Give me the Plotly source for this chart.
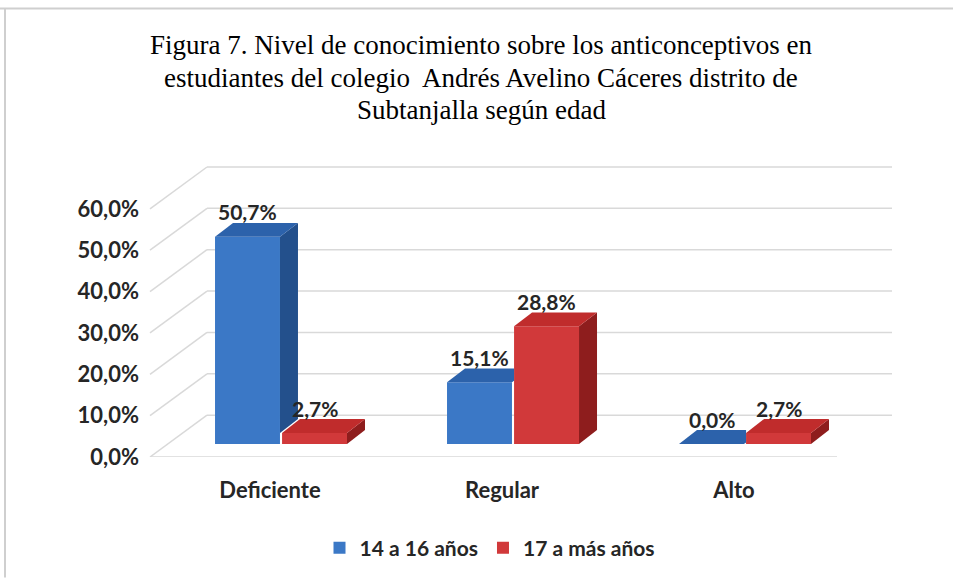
import plotly.graph_objects as go

# ---------------- data ----------------
categories = ["Deficiente", "Regular", "Alto"]
series_names = ["14 a 16 años", "17 a más años"]
values_14_16 = [50.7, 15.1, 0.0]
values_17_mas = [2.7, 28.8, 2.7]
y_tickvals = [0, 10, 20, 30, 40, 50, 60]
y_ticktext = ["0,0%", "10,0%", "20,0%", "30,0%", "40,0%", "50,0%", "60,0%"]
title_lines = [
    "Figura 7. Nivel de conocimiento sobre los anticonceptivos en",
    "estudiantes del colegio  Andrés Avelino Cáceres distrito de",
    "Subtanjalla según edad",
]

def fmt(v):
    return f"{v:.1f}".replace(".", ",") + "%"

# ---------------- style / geometry ----------------
W, H = 953, 579
L, R, T, B = 150, 892, 160, 458          # plot area in pixels
PW, PH = R - L, B - T
CAT_PX = 232.0                           # pixels per category
C0 = 270.0                               # pixel of first category
x_range = [(L - C0) / CAT_PX, (R - C0) / CAT_PX]

S_BAR = 4.1                              # px per % for bars
BAR_BASE = 445                           # pixel of bar base
y_range = [-(B - BAR_BASE) / S_BAR, (BAR_BASE - T) / S_BAR]
S_LBL = 4.15                             # px per % for axis labels / walls
y2_range = [0, PH / S_LBL]
BACK_OFF = 42 / S_LBL                    # back-wall offset in % units
BACK_X = (207 - L) / PW                  # back wall left in paper units
FLOOR_X = (837 - L) / PW

BAR_W = 0.28
OFFSETS = [-0.237, 0.052]
DX = 18 / CAT_PX
DY = 14 / S_BAR

FRONT = ["#3b78c6", "#d1393a"]
TOP = ["#2c62ab", "#c02c2c"]
SIDE = ["#23508c", "#8e1d1d"]
GRID = "#d9d9d9"
TXT = "#262626"
FONT = "Lato"
SERIF = "Liberation Serif, Times New Roman, serif"

series = [values_14_16, values_17_mas]
xs = list(range(len(categories)))

fig = go.Figure()
for s, vals in enumerate(series):
    fig.add_trace(go.Bar(
        x=xs, y=vals, name=series_names[s],
        width=BAR_W, offset=OFFSETS[s],
        marker=dict(color=FRONT[s], line=dict(width=0)),
        hoverinfo="skip",
    ))

shapes = []
# frame
shapes.append(dict(type="line", xref="paper", yref="paper",
                   x0=(0 - L) / PW, x1=(W - L) / PW, y0=(B - 8) / PH, y1=(B - 8) / PH,
                   line=dict(color="#cfcfcf", width=2), layer="below"))
shapes.append(dict(type="line", xref="paper", yref="paper",
                   x0=(5 - L) / PW, x1=(5 - L) / PW, y0=(B - 8) / PH, y1=(B - H) / PH,
                   line=dict(color="#cfcfcf", width=2), layer="below"))
# walls: back gridlines & side diagonals
for v in y_tickvals:
    shapes.append(dict(type="line", xref="paper", yref="y2",
                       x0=BACK_X, x1=1, y0=v + BACK_OFF, y1=v + BACK_OFF,
                       line=dict(color=GRID, width=1.5), layer="below"))
    shapes.append(dict(type="line", xref="paper", yref="y2",
                       x0=0, x1=BACK_X, y0=v, y1=v + BACK_OFF,
                       line=dict(color=GRID, width=1.5), layer="below"))
shapes.append(dict(type="line", xref="paper", yref="y2",
                   x0=0, x1=FLOOR_X, y0=0, y1=0,
                   line=dict(color=GRID, width=1.5), layer="below"))

def path(pts):
    return "M " + " L ".join(f"{x},{y}" for x, y in pts) + " Z"

annotations = []
gap = OFFSETS[1] - (OFFSETS[0] + BAR_W)
for i in xs:
    for s, vals in enumerate(series):
        v = vals[i]
        xl = i + OFFSETS[s]
        xr = xl + BAR_W
        other = series[1 - s][i]
        if s == 0 and other > v:
            top = [(xl, v), (xr, v), (xr + gap, v + DY * gap / DX),
                   (xr + gap, v + DY), (xl + DX, v + DY)]
        else:
            top = [(xl, v), (xr, v), (xr + DX, v + DY), (xl + DX, v + DY)]
        if s == 0:
            if v > other:
                side = [(xr, other), (xr, v), (xr + DX, v + DY), (xr + DX, other + DY)]
            else:
                side = None
        else:
            side = [(xr, 0), (xr, v), (xr + DX, v + DY), (xr + DX, DY)]
        if side:
            shapes.append(dict(type="path", xref="x", yref="y", path=path(side),
                               fillcolor=SIDE[s], line=dict(width=0), layer="above"))
        shapes.append(dict(type="path", xref="x", yref="y", path=path(top),
                           fillcolor=TOP[s], line=dict(width=0), layer="above"))
        annotations.append(dict(x=xl + BAR_W / 2, y=v,
                                xref="x", yref="y",
                                text=fmt(v), showarrow=False, yshift=25,
                                font=dict(family=FONT, size=21, color=TXT, weight="bold")))

title_y = [45, 78, 110]
for line, py in zip(title_lines, title_y):
    annotations.append(dict(
        x=(481 - L) / PW, y=(B - py) / PH, xref="paper", yref="paper",
        text=line, showarrow=False, xanchor="center", yanchor="middle",
        font=dict(family=SERIF, size=27, color="#000000")))

fig.update_layout(
    width=W, height=H,
    margin=dict(l=L, r=W - R, t=T, b=H - B, pad=0),
    paper_bgcolor="white", plot_bgcolor="white",
    barmode="group",
    shapes=shapes, annotations=annotations,
    showlegend=True,
    hovermode=False,
    legend=dict(orientation="h", x=(490 - L) / PW, xanchor="center",
                y=(B - 548) / PH, yanchor="middle", itemwidth=30,
                font=dict(family=FONT, size=21, color=TXT, weight="bold")),
    xaxis=dict(range=x_range, tickvals=xs, ticktext=categories, showgrid=False,
               zeroline=False, showline=False, ticks="", ticklabelstandoff=18,
               tickfont=dict(family=FONT, size=22, color=TXT, weight="bold")),
    yaxis=dict(range=y_range, visible=False, showgrid=False, zeroline=False),
    yaxis2=dict(range=y2_range, overlaying="y", side="left", anchor="x",
                tickvals=y_tickvals, ticktext=y_ticktext, showgrid=False,
                zeroline=False, showline=False, ticks="", ticklabelstandoff=10,
                tickfont=dict(family=FONT, size=22, color=TXT, weight="bold")),
)

fig.write_html("out.html", config={"displayModeBar": False},
               post_script="document.body.style.margin='0';")
